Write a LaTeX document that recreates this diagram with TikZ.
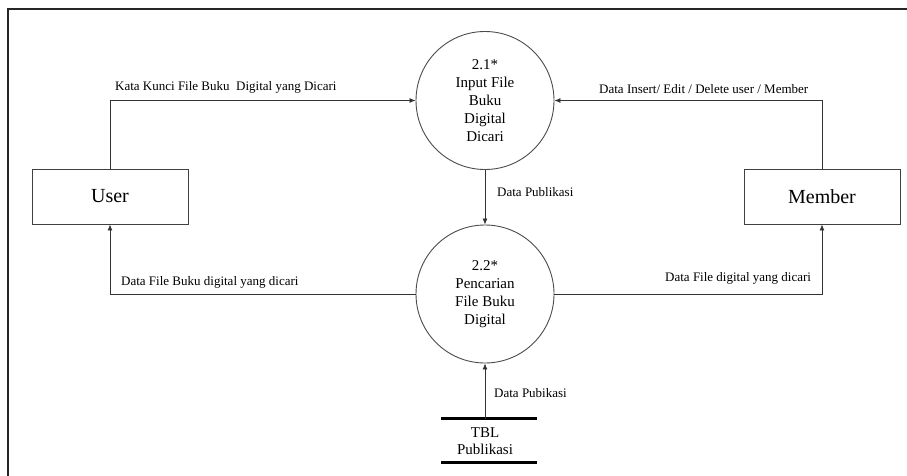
\documentclass[tikz,border=0pt]{standalone}
\usepackage{fontspec}
\setmainfont{Liberation Serif}
\usetikzlibrary{arrows.meta}
\begin{document}
\begin{tikzpicture}[x=1pt,y=-1pt,
  proc/.style={circle, draw=black!70, line width=0.9pt, minimum size=138pt,
    inner sep=0pt, align=center, font=\fontsize{15}{18}\selectfont},
  ent/.style={rectangle, draw=black!75, line width=0.9pt, minimum width=156pt,
    minimum height=55pt, font=\fontsize{20}{24}\selectfont},
  flow/.style={draw=black!80, line width=0.8pt, -{Latex[length=6pt,width=5pt]}},
  lbl/.style={anchor=west, inner sep=0pt, font=\fontsize{13}{15}\selectfont},
  storebar/.style={line width=3.5pt, black},
  storetext/.style={inner sep=0pt, align=center, font=\fontsize{15}{17}\selectfont}]
\useasboundingbox (0,0) rectangle (907,476);
\fill[white] (0,0) rectangle (907,476);
% page frame
\draw[line width=2pt, black!85] (8,476) -- (8,9.5) -- (907,9.5);

% processes
\node[proc] (p1) at (485,100.5) {2.1*\\Input File\\Buku\\Digital\\Dicari};
\node[proc] (p2) at (485,294) {2.2*\\Pencarian\\File Buku\\Digital};

% external entities
\node[ent] (user) at (110,196.5) {User};
\node[ent] (member) at (822,196.5) {Member};

% data store
\draw[storebar] (441,418.5) -- (537,418.5);
\draw[storebar] (441,462.4) -- (537,462.4);
\coordinate (st) at (485,418.5);
\node[storetext] (store) at (485,441.5) {TBL\\Publikasi};

% data flows
\draw[flow] (user.north) |- (p1.west);
\draw[flow] (member.north) |- (p1.east);
\draw[flow] (p1.south) -- (p2.north);
\draw[flow] (p2.west) -| (user.south);
\draw[flow] (p2.east) -| (member.south);
\draw[flow] (st) -- (p2.south);

% flow labels
\node[lbl] (l1) at (115,87) {Kata Kunci File Buku\ \ Digital yang Dicari};
\node[lbl] (l2) at (599,89.5) {Data Insert/ Edit / Delete user / Member};
\node[lbl] (l3) at (497,192) {Data Publikasi};
\node[lbl] (l4) at (121,282.5) {Data File Buku digital yang dicari};
\node[lbl] (l5) at (665,278.5) {Data File digital yang dicari};
\node[lbl] (l6) at (494,393) {Data Pubikasi};
\end{tikzpicture}
\end{document}
